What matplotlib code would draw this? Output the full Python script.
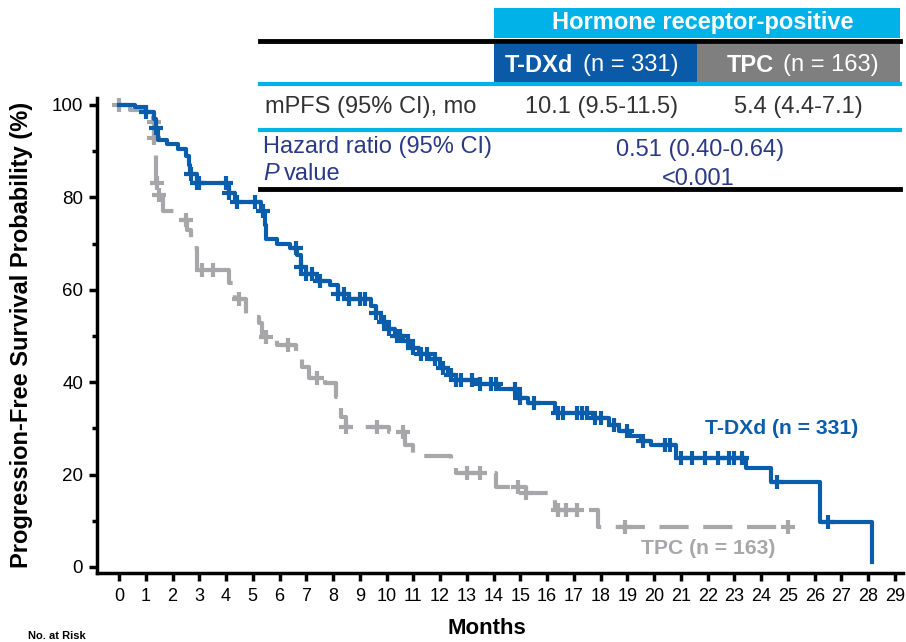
import numpy as np
import matplotlib.pyplot as plt
from matplotlib.patches import Rectangle
from matplotlib.ticker import MultipleLocator

plt.rcParams['font.family'] = ['Liberation Sans', 'DejaVu Sans']

# T-DXd step curve (months, survival % after the drop)
tdxd_t = [0, 0.6, 1.0, 1.3, 1.4, 1.45, 1.8, 2.2, 2.5, 2.6, 2.65, 2.9, 4.1, 4.35,
          5.3, 5.45, 5.5, 5.9, 6.4, 6.65, 6.8, 7.0, 7.4, 7.9, 8.2, 8.6, 9.4, 9.6,
          9.8, 10.0, 10.3, 10.6, 10.9, 11.2, 11.6, 12.0, 12.3, 12.6, 13.5, 14.2,
          14.85, 15.3, 16.3, 17.7, 18.3, 18.7, 19.1, 19.5, 19.9, 20.8, 23.45,
          24.35, 26.2, 28.15]
tdxd_s = [100, 99.5, 98.5, 97, 95, 92.5, 91.5, 90.5, 89, 87, 85, 83, 81, 79,
          77, 74, 71, 70, 69, 67.5, 65, 63.5, 62, 61, 59, 58, 56.5, 55,
          53, 51.5, 50, 49, 47.5, 46, 45, 43, 41.5, 40.5, 39.5, 38.5,
          36.5, 35.5, 33.3, 32.2, 30.8, 29.5, 28.3, 27.3, 26.4, 23.6, 21.5,
          18.4, 9.7, 1]
tdxd_cens = [1.0, 1.4, 2.7, 2.9, 3.0, 4.0, 4.1, 4.4, 5.1, 5.4, 6.6, 6.8, 7.0, 7.2,
             7.5, 8.2, 8.4, 8.6, 9.0, 9.2, 9.6, 9.9, 10.1, 10.4, 10.5, 10.8, 11.0,
             11.3, 11.5, 11.8, 12.1, 12.4, 12.6, 12.8, 13.2, 13.5, 13.9, 14.1,
             14.8, 15.0, 15.5, 16.4, 16.6, 17.1, 17.3, 17.5, 17.8, 18.0, 18.5,
             19.0, 19.6, 20.4, 20.6, 21.0, 21.4, 21.9, 22.4, 22.8, 23.0, 23.3,
             24.6, 26.5]

# TPC step curve
tpc_t = [0, 0.4, 0.9, 1.27, 1.3, 1.32, 1.4, 1.45, 1.64, 2.3, 2.55, 2.7, 2.9, 4.1,
         4.35, 4.75, 5.25, 5.36, 5.9, 6.6, 6.85, 7.1, 7.7, 8.1, 8.3, 8.5, 10.1,
         10.7, 11.0, 12.4, 12.6, 14.1, 15.2, 16.3, 17.9, 25.1]
tpc_s = [100, 99, 97.8, 96.3, 92.9, 89.6, 83, 80.5, 77, 75, 73, 69, 64.3, 61.5,
         58, 54, 52.8, 49.8, 48, 45.5, 43.3, 41, 39.8, 36.8, 32.5, 30.3, 29.2,
         26.4, 24, 22.7, 20.3, 17.3, 16, 12.3, 8.7, 8.7]
tpc_cens = [0.0, 1.29, 1.31, 1.42, 1.5, 2.5, 3.1, 3.5, 4.5, 5.5, 6.3, 7.4, 8.5,
            9.65, 10.6, 13.0, 13.5, 14.9, 15.2, 16.4, 16.7, 17.1, 18.9, 25.0]

xticks = list(range(0, 30))
yticks = [0, 20, 40, 60, 80, 100]

blue = '#0A5DAB'
grey = '#A7A7A9'
cyan = '#00B2E8'
navy = '#2B3A86'
dark = '#333333'
W, H = 906, 642


def surv_at(t, times, surv):
    i = np.searchsorted(times, t, side='right') - 1
    return np.array(surv)[i]


fig = plt.figure(figsize=(W / 100, H / 100), dpi=100)
ax = fig.add_axes([97 / W, (H - 573) / H, (903 - 97) / W, (573 - 98) / H])

ax.step(tdxd_t, tdxd_s, where='post', color=blue, lw=3, zorder=3)
ax.plot(tdxd_cens, surv_at(tdxd_cens, tdxd_t, tdxd_s), '+', color=blue,
        ms=10, mew=3, zorder=3)
ax.step(tpc_t, tpc_s, where='post', color=grey, lw=3, ls=(0, (7, 3.5)), zorder=2)
ax.plot(tpc_cens, surv_at(tpc_cens, tpc_t, tpc_s), '+', color=grey,
        ms=10, mew=3, zorder=2)

ax.set_xlim(-0.822, 29.3)
ax.set_ylim(-1.3, 101.5)
ax.spines['top'].set_visible(False)
ax.spines['right'].set_visible(False)
ax.spines['left'].set_linewidth(2.5)
ax.spines['bottom'].set_linewidth(2.5)
ax.set_xticks(xticks)
ax.set_xticklabels([str(x) for x in xticks], fontsize=13)
ax.set_yticks(yticks)
ax.set_yticklabels([str(y) for y in yticks], fontsize=13.5)
ax.yaxis.set_minor_locator(MultipleLocator(10))
ax.tick_params(axis='x', direction='out', length=6, width=2.5, pad=5)
ax.tick_params(axis='y', direction='out', length=6, width=2.5, pad=4)
ax.tick_params(axis='y', which='minor', direction='out', length=3.5, width=2.5)

fig.text(487 / W, 1 - 628 / H, 'Months', fontsize=16, fontweight='bold',
         ha='center', va='center')
fig.text(22 / W, 1 - 335 / H, 'Progression-Free Survival Probability (%)',
         fontsize=17, fontweight='bold', rotation=90, ha='center', va='center')

ax.text(21.9, 30, 'T-DXd (n = 331)', color=blue, fontsize=15.2, fontweight='bold',
        va='center')
ax.text(19.5, 4, 'TPC (n = 163)', color=grey, fontsize=15.2, fontweight='bold',
        va='center')

# table overlay in pixel coordinates
ov = fig.add_axes([0, 0, 1, 1], zorder=5)
ov.set_xlim(0, W)
ov.set_ylim(H, 0)
ov.axis('off')
fs = 17
ov.add_patch(Rectangle((494, 8), 406, 30, color=cyan, lw=0))
ov.text(703, 23, 'Hormone receptor-positive', color='white', fontsize=fs,
        fontweight='bold', ha='center', va='center')
ov.plot([260, 900], [41, 41], color='black', lw=3.5)
ov.add_patch(Rectangle((494, 44), 203, 38, color='#0B5AA7', lw=0))
ov.add_patch(Rectangle((697, 44), 203, 38, color='#7F7F7F', lw=0))
ov.text(505, 65, 'T-DXd', color='white', fontsize=fs, fontweight='bold', va='center')
ov.text(583, 65, '(n = 331)', color='white', fontsize=fs, va='center')
ov.text(727, 65, 'TPC', color='white', fontsize=fs, fontweight='bold', va='center')
ov.text(783, 65, '(n = 163)', color='white', fontsize=fs, va='center')
ov.plot([260, 900], [84, 84], color=cyan, lw=3)
ov.text(265, 107, 'mPFS (95% CI), mo', color=dark, fontsize=fs, va='center')
ov.text(602, 107, '10.1 (9.5-11.5)', color=dark, fontsize=fs,
        ha='center', va='center')
ov.text(798, 107, '5.4 (4.4-7.1)', color=dark, fontsize=fs,
        ha='center', va='center')
ov.plot([260, 900], [130, 130], color=cyan, lw=3)
ov.text(263, 147, 'Hazard ratio (95% CI)', color=navy, fontsize=fs, va='center')
ov.text(700, 150, '0.51 (0.40-0.64)', color=navy, fontsize=fs,
        ha='center', va='center')
ov.text(263, 174, 'P', color=navy, fontsize=fs, style='italic', va='center')
ov.text(284, 174, 'value', color=navy, fontsize=fs, va='center')
ov.text(698, 179, '<0.001', color=navy, fontsize=fs, ha='center', va='center')
ov.plot([260, 900], [189, 189], color='black', lw=3.5)
ov.text(28, 636, 'No. at Risk', color='black', fontsize=8, fontweight='bold',
        va='center')

fig.savefig('out.png', dpi=100)
